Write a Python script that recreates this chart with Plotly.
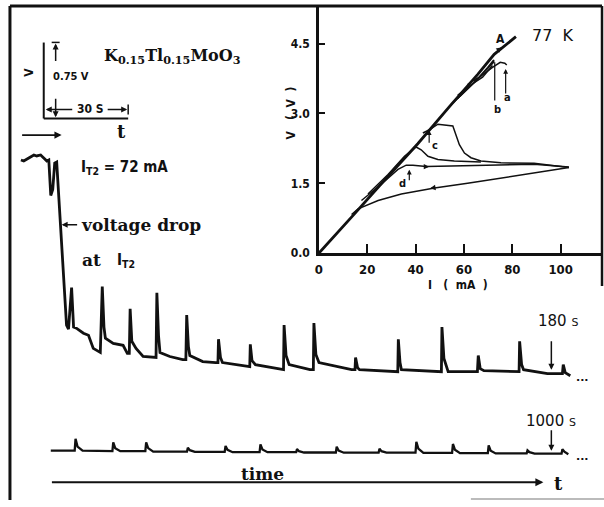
import plotly.graph_objects as go

W, H = 604, 507

# ---------------- data ----------------
# Upper strip-chart trace: time (s, origin at the scale-bar corner) and voltage (V, arbitrary offset)
top_t = [-8.1, -7.1, -5.3, -3.5, -2.5, -1.1, 0.0, 1.1, 1.8, 2.5, 3.2, 3.9, 4.6,
         8.1, 8.8, 9.9, 10.6, 11.6, 14.1, 15.9, 17.6, 20.1,
         20.8, 21.4, 21.9, 24.7, 28.2, 29.7, 30.4,
         30.7, 31.3, 32.8, 35.3, 38.8, 39.9,
         40.2, 40.8, 41.3, 44.8, 49.4, 50.5,
         50.8, 51.4, 51.9, 56.5, 61.1, 61.9,
         62.1, 62.8, 63.5, 72.4, 73.2,
         73.4, 74.0, 75.2, 84.0, 85.2,
         85.4, 86.1, 87.2, 94.6, 95.8,
         96.0, 96.7, 97.8, 109.4, 110.6,
         110.8, 111.5, 112.2, 123.5, 125.8,
         126.0, 126.6, 127.1, 140.1, 141.3,
         141.5, 142.2, 143.7, 154.1,
         154.4, 155.1, 156.4, 168.4, 168.9,
         169.1, 169.8, 170.5, 179.0, 184.3,
         184.6, 185.3, 187.1]
top_v = [2.87, 2.86, 2.89, 2.92, 2.91, 2.92, 2.89, 2.86, 2.87, 2.52, 2.58, 2.84, 2.85,
         1.24, 1.20, 1.61, 1.22, 1.21, 1.16, 1.14, 1.01, 0.97,
         1.62, 1.22, 1.11, 1.06, 1.04, 0.96, 0.96,
         1.40, 1.08, 1.01, 0.93, 0.92, 0.92,
         1.56, 1.13, 0.97, 0.93, 0.90, 0.90,
         1.34, 1.03, 0.94, 0.88, 0.87, 0.87,
         1.10, 0.92, 0.87, 0.83, 0.83,
         1.05, 0.89, 0.85, 0.80, 0.80,
         1.24, 0.94, 0.85, 0.80, 0.80,
         1.26, 0.95, 0.87, 0.80, 0.80,
         0.92, 0.82, 0.80, 0.78, 0.78,
         1.10, 0.87, 0.80, 0.78, 0.78,
         1.22, 0.91, 0.78, 0.78,
         0.94, 0.81, 0.79, 0.78, 0.78,
         1.08, 0.85, 0.80, 0.76, 0.76,
         0.85, 0.77, 0.74]

# Lower strip-chart trace (around 1000 s)
low_t = [822.5, 831.0, 831.3, 832.0, 833.8,
         844.4, 844.7, 845.4, 847.2,
         856.1, 856.4, 857.1, 858.9,
         870.9, 871.2, 871.9, 873.7,
         884.3, 884.6, 885.3, 887.1,
         896.7, 897.0, 897.7, 899.5,
         909.7, 910.0, 910.7, 912.5,
         923.8, 924.1, 924.8, 926.6,
         939.0, 939.3, 940.0, 941.8,
         952.1, 952.4, 953.1, 954.9,
         965.1, 965.4, 966.1, 967.9,
         977.8, 978.1, 978.8, 980.6,
         991.6, 991.9, 992.6, 994.4,
         1004.0, 1004.3, 1005.0, 1006.4]
low_v = [0.0, 0.0, 0.117, 0.04, 0.0,
         -0.005, 0.083, 0.025, -0.005,
         -0.005, 0.083, 0.025, -0.01,
         -0.01, 0.03, 0.005, -0.012,
         -0.012, 0.046, 0.008, -0.015,
         -0.015, 0.063, 0.012, -0.015,
         -0.015, 0.015, -0.005, -0.018,
         -0.018, 0.04, 0.0, -0.02,
         -0.02, 0.02, -0.005, -0.02,
         -0.02, 0.087, 0.02, -0.022,
         -0.022, 0.066, 0.01, -0.025,
         -0.025, 0.053, 0.0, -0.027,
         -0.027, 0.003, -0.015, -0.03,
         -0.03, 0.015, -0.01, -0.035]

# Inset I-V curves at 77 K (I in mA, V in volts)
ohm_i = [0, 6.6, 14.8, 27.2, 40.9, 54.7, 65.7, 72.5, 81.5]
ohm_v = [0, 0.39, 0.85, 1.57, 2.35, 3.19, 3.84, 4.27, 4.65]

a_i = [54.7, 61.5, 67.0, 71.8, 75.0, 76.9, 77.7]
a_v = [3.19, 3.53, 3.80, 3.99, 4.10, 4.08, 4.04]
a_ret_i = [71.8, 67.7, 62.2, 57.4]
a_ret_v = [4.03, 3.78, 3.59, 3.39]
b_i = [57.4, 64.3, 69.8, 72.3, 72.3, 67.0, 61.5]
b_v = [3.32, 3.67, 3.99, 4.15, 4.10, 3.81, 3.62]

c_i = [43.0, 45.7, 49.2, 53.3, 55.4, 56.7, 58.1, 60.2, 62.9, 67.0, 75.3, 89.0, 103.4]
c_v = [2.58, 2.65, 2.77, 2.75, 2.73, 2.54, 2.33, 2.15, 2.05, 1.98, 1.94, 1.93, 1.84]

p_i = [20.3, 28.6, 35.4, 40.2, 42.3, 45.1, 49.2, 56.0, 67.0]
p_v = [1.27, 1.69, 2.08, 2.28, 2.22, 2.08, 2.01, 1.98, 1.96]

d_i = [17.6, 25.8, 32.7, 36.1, 38.9, 44.4, 54.7, 68.4, 89.0, 103.4]
d_v = [1.13, 1.48, 1.80, 1.89, 1.89, 1.86, 1.87, 1.89, 1.91, 1.85]

ret_i = [103.4, 89.0, 75.3, 61.5, 47.8, 34.1, 24.5, 16.2, 13.5]
ret_v = [1.84, 1.72, 1.60, 1.50, 1.40, 1.27, 1.13, 0.95, 0.83]

inset_xticks = [0, 20, 40, 60, 80, 100]
inset_yticks = [0, 1.5, 3.0, 4.5]
inset_yticktext = ["0.0", "1.5", "3.0", "4.5"]

scale_t = 30      # s
scale_v = 0.75    # V
scale_v0 = 3.28   # level of the scale-bar corner on the voltage axis

# ---------------- helpers (pixel -> paper) ----------------
def px(x):
    return x / W

def py(y):
    return 1 - y / H

BLACK = "#111111"
SERIF = "DejaVu Serif, Liberation Serif, serif"
NARROW = "Liberation Sans Narrow, DejaVu Sans Condensed, Arial Narrow, sans-serif"
SANS = "DejaVu Sans, Liberation Sans, sans-serif"

fig = go.Figure()

fig.add_trace(go.Scatter(x=top_t, y=top_v, mode="lines", xaxis="x", yaxis="y",
                         line=dict(color=BLACK, width=2.8), hoverinfo="skip"))
fig.add_trace(go.Scatter(x=low_t, y=low_v, mode="lines", xaxis="x3", yaxis="y",
                         line=dict(color=BLACK, width=2.3), hoverinfo="skip"))

def inset(xs, ys, w=1.5):
    fig.add_trace(go.Scatter(x=xs, y=ys, mode="lines", xaxis="x2", yaxis="y2",
                             line=dict(color=BLACK, width=w), hoverinfo="skip"))

inset(ohm_i, ohm_v, 2.8)
inset(a_i, a_v)
inset(a_ret_i, a_ret_v)
inset(b_i, b_v)
inset(c_i, c_v)
inset(p_i, p_v)
inset(d_i, d_v)
inset(ret_i, ret_v)

# ---------------- shapes ----------------
shapes = []
def pline(x0, y0, x1, y1, w=2.5, color=BLACK):
    shapes.append(dict(type="line", xref="paper", yref="paper",
                       x0=px(x0), y0=py(y0), x1=px(x1), y1=py(y1),
                       line=dict(color=color, width=w)))

# outer frame
pline(6, 6, 602, 6, 3)
pline(6, 6, 6, 507, 3)
pline(602, 6, 602, 290, 2.5)
pline(470, 506, 604, 506, 2, "#bbbbbb")

# scale bar (data coords)
shapes.append(dict(type="line", xref="x", yref="y", x0=0, x1=0,
                   y0=scale_v0, y1=scale_v0 + scale_v, line=dict(color=BLACK, width=2)))
shapes.append(dict(type="line", xref="x", yref="y", x0=0, x1=scale_t,
                   y0=scale_v0, y1=scale_v0, line=dict(color=BLACK, width=2)))
pline(48, 43, 56, 43, 1.5)      # cap of the voltage arrow
pline(125, 106, 125, 116, 1.5)  # end bar of the 30 s arrow
pline(494, 63, 494, 102, 1.2)   # pointer b

# ---------------- annotations ----------------
ann = []
def text(x, y, s, size=12, family=NARROW, xanchor="center", angle=0):
    ann.append(dict(x=px(x), y=py(y), xref="paper", yref="paper", text=s,
                    showarrow=False, xanchor=xanchor, yanchor="middle",
                    textangle=angle, font=dict(family=family, size=size, color=BLACK)))

def arrow(xh, yh, xt, yt, w=1.5, size=0.9, head=2):
    ann.append(dict(x=px(xh), y=py(yh), xref="paper", yref="paper", text="",
                    showarrow=True, ax=xt - xh, ay=yt - yh, axref="pixel", ayref="pixel",
                    arrowhead=head, arrowsize=size, arrowwidth=w, arrowcolor=BLACK,
                    standoff=0, startstandoff=0))

text(170, 57, "<b>K<sub>0.15</sub>Tl<sub>0.15</sub>MoO<sub>3</sub></b>", 16, SERIF)
text(25, 73, "<b>V</b>", 12, NARROW, angle=-90)
text(67, 78, "<b>0.75 V</b>", 11, NARROW)
text(87, 111, "<b>30 S</b>", 12, NARROW)
text(118, 133, "<b>t</b>", 18, SERIF)
text(75, 170, "<b>I<sub>T2</sub> = 72 mA</b>", 15, NARROW, xanchor="left")
text(76, 228, "<b>voltage drop</b>", 17, SERIF, xanchor="left")
text(77, 264, "<b>at</b>", 17, SERIF, xanchor="left")
text(112, 264, "<b>I<sub>T2</sub></b>", 15, NARROW, xanchor="left")
text(536, 325, "180 <span style='font-size:11px'>S</span>", 15, SANS, xanchor="left")
text(574, 383, "<b>...</b>", 11, SANS, xanchor="left")
text(523, 427, "1000 <span style='font-size:11px'>S</span>", 15, SANS, xanchor="left")
text(574, 463, "<b>...</b>", 11, SANS, xanchor="left")
text(260, 481, "<b>time</b>", 17, SERIF)
text(558, 490, "<b>t</b>", 18, SERIF)

# inset text
text(457, 289, "<b>I   (  mA  )</b>", 12, NARROW)
text(289, 115, "<b>V   (  V  )</b>", 12, NARROW, angle=-90)
text(500, 40, "<b>A</b>", 12, NARROW)
text(553, 36, "77  K", 16, SANS)
text(507, 99, "<b>a</b>", 11, NARROW)
text(497, 111, "<b>b</b>", 11, NARROW)
text(434, 148, "<b>c</b>", 11, NARROW)
text(401, 186, "<b>d</b>", 11, NARROW)

# arrows
arrow(58, 228, 75, 228, 1.5, 0.8)        # voltage drop pointer
arrow(52, 44, 52, 63, 1.5, 0.8)          # 0.75 V up
arrow(52, 119, 52, 99, 1.5, 0.8)         # 0.75 V down
arrow(42, 111, 70, 111, 1.5, 0.8)        # 30 s left
arrow(124, 111, 103, 111, 1.5, 0.8)      # 30 s right
arrow(58, 137, 17, 137, 1.8, 0.8)        # small time arrow
arrow(551, 375, 551, 345, 1.5, 0.8)      # 180 s
arrow(551, 457, 551, 435, 1.5, 0.8)      # 1000 s
arrow(543, 489, 50, 489, 2.0, 0.8)       # time axis
arrow(505, 70, 505, 96, 1.2, 0.8)        # a
arrow(428, 132, 428, 146, 1.2, 0.8)      # c
arrow(408, 172, 408, 184, 1.2, 0.8)      # d
arrow(429, 191, 435, 190, 1.2, 0.9)      # on return curve
arrow(428, 169, 422, 169, 1.2, 0.9)      # on d curve
arrow(501, 48, 496, 52, 1.2, 0.9)        # on ohmic line

fig.update_layout(
    width=W, height=H, margin=dict(l=0, r=0, t=0, b=0),
    paper_bgcolor="white", plot_bgcolor="white", showlegend=False,
    xaxis=dict(domain=[0, 1], range=[-14.12, 199.08], visible=False, fixedrange=True),
    xaxis3=dict(overlaying="x", range=[805.88, 1019.08], visible=False, anchor="y"),
    yaxis=dict(domain=[0, 1], range=[-0.487, 4.450], visible=False),
    xaxis2=dict(domain=[px(317), px(602)], range=[0, 117.1], anchor="y2",
                showline=True, linecolor=BLACK, linewidth=2.5, showgrid=False, zeroline=False,
                ticks="inside", ticklen=9, tickwidth=2, tickcolor=BLACK,
                tickvals=inset_xticks, ticklabelstandoff=2,
                tickfont=dict(family=NARROW, size=13, color=BLACK, weight="bold")),
    yaxis2=dict(domain=[py(256.7), py(6)], range=[0, 5.31], anchor="x2",
                showline=True, linecolor=BLACK, linewidth=2.5, showgrid=False, zeroline=False,
                ticks="inside", ticklen=6, tickwidth=2, tickcolor=BLACK,
                tickvals=inset_yticks, ticktext=inset_yticktext, ticklabelstandoff=4,
                tickfont=dict(family=NARROW, size=12, color=BLACK, weight="bold")),
    shapes=shapes, annotations=ann,
)

fig.write_html("out.html")
